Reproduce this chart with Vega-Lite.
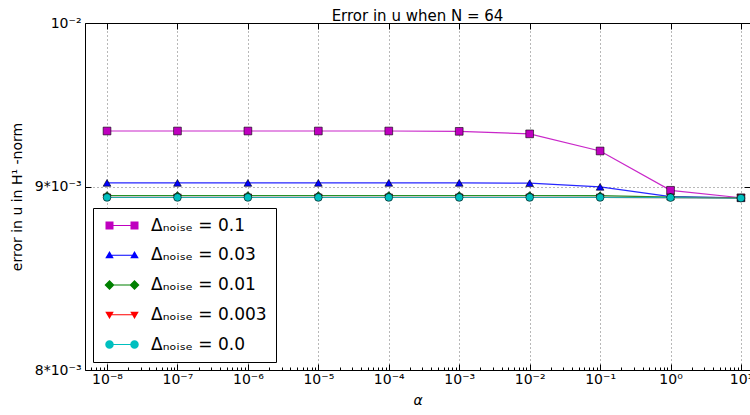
{
  "$schema": "https://vega.github.io/schema/vega-lite/v6.json",
  "autosize": "none",
  "width": 665,
  "height": 347,
  "padding": {"left": 85, "top": 23, "right": 0, "bottom": 45},
  "background": "white",
  "config": {
    "font": "DejaVu Sans",
    "view": {"stroke": "black", "strokeWidth": 1},
    "axis": {"labelFont": "DejaVu Sans", "titleFont": "DejaVu Sans", "labelColor": "black", "titleColor": "black", "tickColor": "black", "domain": false}
  },
  "title": {"text": "Error in u  when N = 64", "fontSize": 15, "fontWeight": "normal", "font": "DejaVu Sans", "offset": -8, "color": "black"},
  "data": {"values": [
    {"alpha": 1e-8, "err": 0.009329, "noise": "Δₙₒᵢₛₑ = 0.1"},
    {"alpha": 1e-7, "err": 0.009329, "noise": "Δₙₒᵢₛₑ = 0.1"},
    {"alpha": 1e-6, "err": 0.009329, "noise": "Δₙₒᵢₛₑ = 0.1"},
    {"alpha": 1e-5, "err": 0.009329, "noise": "Δₙₒᵢₛₑ = 0.1"},
    {"alpha": 1e-4, "err": 0.009329, "noise": "Δₙₒᵢₛₑ = 0.1"},
    {"alpha": 1e-3, "err": 0.009327, "noise": "Δₙₒᵢₛₑ = 0.1"},
    {"alpha": 1e-2, "err": 0.009312, "noise": "Δₙₒᵢₛₑ = 0.1"},
    {"alpha": 1e-1, "err": 0.009210, "noise": "Δₙₒᵢₛₑ = 0.1"},
    {"alpha": 1, "err": 0.008980, "noise": "Δₙₒᵢₛₑ = 0.1"},
    {"alpha": 10, "err": 0.008937, "noise": "Δₙₒᵢₛₑ = 0.1"},
    {"alpha": 1e-8, "err": 0.009023, "noise": "Δₙₒᵢₛₑ = 0.03"},
    {"alpha": 1e-7, "err": 0.009023, "noise": "Δₙₒᵢₛₑ = 0.03"},
    {"alpha": 1e-6, "err": 0.009023, "noise": "Δₙₒᵢₛₑ = 0.03"},
    {"alpha": 1e-5, "err": 0.009023, "noise": "Δₙₒᵢₛₑ = 0.03"},
    {"alpha": 1e-4, "err": 0.009023, "noise": "Δₙₒᵢₛₑ = 0.03"},
    {"alpha": 1e-3, "err": 0.009023, "noise": "Δₙₒᵢₛₑ = 0.03"},
    {"alpha": 1e-2, "err": 0.009021, "noise": "Δₙₒᵢₛₑ = 0.03"},
    {"alpha": 1e-1, "err": 0.009000, "noise": "Δₙₒᵢₛₑ = 0.03"},
    {"alpha": 1, "err": 0.008944, "noise": "Δₙₒᵢₛₑ = 0.03"},
    {"alpha": 10, "err": 0.008937, "noise": "Δₙₒᵢₛₑ = 0.03"},
    {"alpha": 1e-8, "err": 0.008950, "noise": "Δₙₒᵢₛₑ = 0.01"},
    {"alpha": 1e-7, "err": 0.008950, "noise": "Δₙₒᵢₛₑ = 0.01"},
    {"alpha": 1e-6, "err": 0.008950, "noise": "Δₙₒᵢₛₑ = 0.01"},
    {"alpha": 1e-5, "err": 0.008950, "noise": "Δₙₒᵢₛₑ = 0.01"},
    {"alpha": 1e-4, "err": 0.008950, "noise": "Δₙₒᵢₛₑ = 0.01"},
    {"alpha": 1e-3, "err": 0.008950, "noise": "Δₙₒᵢₛₑ = 0.01"},
    {"alpha": 1e-2, "err": 0.008950, "noise": "Δₙₒᵢₛₑ = 0.01"},
    {"alpha": 1e-1, "err": 0.008949, "noise": "Δₙₒᵢₛₑ = 0.01"},
    {"alpha": 1, "err": 0.008941, "noise": "Δₙₒᵢₛₑ = 0.01"},
    {"alpha": 10, "err": 0.008936, "noise": "Δₙₒᵢₛₑ = 0.01"},
    {"alpha": 1e-8, "err": 0.008939, "noise": "Δₙₒᵢₛₑ = 0.003"},
    {"alpha": 1e-7, "err": 0.008939, "noise": "Δₙₒᵢₛₑ = 0.003"},
    {"alpha": 1e-6, "err": 0.008939, "noise": "Δₙₒᵢₛₑ = 0.003"},
    {"alpha": 1e-5, "err": 0.008939, "noise": "Δₙₒᵢₛₑ = 0.003"},
    {"alpha": 1e-4, "err": 0.008939, "noise": "Δₙₒᵢₛₑ = 0.003"},
    {"alpha": 1e-3, "err": 0.008939, "noise": "Δₙₒᵢₛₑ = 0.003"},
    {"alpha": 1e-2, "err": 0.008939, "noise": "Δₙₒᵢₛₑ = 0.003"},
    {"alpha": 1e-1, "err": 0.008939, "noise": "Δₙₒᵢₛₑ = 0.003"},
    {"alpha": 1, "err": 0.008938, "noise": "Δₙₒᵢₛₑ = 0.003"},
    {"alpha": 10, "err": 0.008936, "noise": "Δₙₒᵢₛₑ = 0.003"},
    {"alpha": 1e-8, "err": 0.008939, "noise": "Δₙₒᵢₛₑ = 0.0"},
    {"alpha": 1e-7, "err": 0.008939, "noise": "Δₙₒᵢₛₑ = 0.0"},
    {"alpha": 1e-6, "err": 0.008939, "noise": "Δₙₒᵢₛₑ = 0.0"},
    {"alpha": 1e-5, "err": 0.008939, "noise": "Δₙₒᵢₛₑ = 0.0"},
    {"alpha": 1e-4, "err": 0.008939, "noise": "Δₙₒᵢₛₑ = 0.0"},
    {"alpha": 1e-3, "err": 0.008939, "noise": "Δₙₒᵢₛₑ = 0.0"},
    {"alpha": 1e-2, "err": 0.008939, "noise": "Δₙₒᵢₛₑ = 0.0"},
    {"alpha": 1e-1, "err": 0.008939, "noise": "Δₙₒᵢₛₑ = 0.0"},
    {"alpha": 1, "err": 0.008938, "noise": "Δₙₒᵢₛₑ = 0.0"},
    {"alpha": 10, "err": 0.008935, "noise": "Δₙₒᵢₛₑ = 0.0"}
  ]},
  "layer": [
    {
      "mark": {"type": "line", "strokeWidth": 1.2, "opacity": 0.85},
      "encoding": {
        "x": {"field": "alpha", "type": "quantitative",
          "scale": {"type": "log", "domain": [4.868e-9, 13.43], "nice": false},
          "axis": {
            "values": [1e-8, 1e-7, 1e-6, 1e-5, 1e-4, 1e-3, 1e-2, 1e-1, 1, 10,
              6e-9, 7e-9, 8e-9, 9e-9,
              2e-8, 3e-8, 4e-8, 5e-8, 6e-8, 7e-8, 8e-8, 9e-8,
              2e-7, 3e-7, 4e-7, 5e-7, 6e-7, 7e-7, 8e-7, 9e-7,
              2e-6, 3e-6, 4e-6, 5e-6, 6e-6, 7e-6, 8e-6, 9e-6,
              2e-5, 3e-5, 4e-5, 5e-5, 6e-5, 7e-5, 8e-5, 9e-5,
              2e-4, 3e-4, 4e-4, 5e-4, 6e-4, 7e-4, 8e-4, 9e-4,
              2e-3, 3e-3, 4e-3, 5e-3, 6e-3, 7e-3, 8e-3, 9e-3,
              2e-2, 3e-2, 4e-2, 5e-2, 6e-2, 7e-2, 8e-2, 9e-2,
              2e-1, 3e-1, 4e-1, 5e-1, 6e-1, 7e-1, 8e-1, 9e-1,
              2, 3, 4, 5, 6, 7, 8, 9],
            "labelExpr": "abs(log(datum.value)/LN10 - round(log(datum.value)/LN10)) < 0.01 ? '10' + replace(replace(replace(replace(replace(replace(replace(replace(replace(replace(replace(toString(round(log(datum.value)/LN10)),'-','⁻'),'0','⁰'),'1','¹'),'2','²'),'3','³'),'4','⁴'),'5','⁵'),'6','⁶'),'7','⁷'),'8','⁸'),'9','⁹') : ''",
            "labelFontSize": 14, "labelPadding": 8, "labelFlush": false, "labelOverlap": false,
            "tickSize": {"condition": {"test": "abs(log(datum.value)/LN10 - round(log(datum.value)/LN10)) < 0.01", "value": -6}, "value": -3},
            "grid": true, "gridColor": "black", "gridDash": [1, 3], "gridWidth": 0.8,
            "gridOpacity": {"condition": {"test": "abs(log(datum.value)/LN10 - round(log(datum.value)/LN10)) < 0.01", "value": 0.7}, "value": 0},
            "title": "α", "titleFontSize": 14, "titleFontStyle": "italic", "titleFontWeight": "normal", "titlePadding": 4
          }
        },
        "y": {"field": "err", "type": "quantitative",
          "scale": {"type": "log", "domain": [0.008, 0.01], "nice": false},
          "axis": {
            "values": [0.008, 0.009, 0.01],
            "labelExpr": "datum.value < 0.0085 ? '8*10⁻³' : datum.value < 0.0095 ? '9*10⁻³' : '10⁻²'",
            "labelFontSize": 14, "labelPadding": 10, "labelFlush": false,
            "tickSize": -6,
            "grid": true, "gridColor": "black", "gridDash": [1, 3], "gridWidth": 0.8, "gridOpacity": 0.7,
            "title": "error in u in H¹ -norm", "titleFontSize": 14, "titleFontWeight": "normal", "titlePadding": 10
          }
        },
        "color": {"field": "noise", "type": "nominal", "legend": null,
          "scale": {"domain": ["Δₙₒᵢₛₑ = 0.1", "Δₙₒᵢₛₑ = 0.03", "Δₙₒᵢₛₑ = 0.01", "Δₙₒᵢₛₑ = 0.003", "Δₙₒᵢₛₑ = 0.0"],
                    "range": ["#bf00bf", "#0000ff", "#008000", "#ff0000", "#00bfbf"]}},
        "detail": {"field": "noise"}
      }
    },
    {
      "mark": {"type": "point", "filled": true, "size": 60, "opacity": 1, "stroke": "black", "strokeWidth": 0.6},
      "encoding": {
        "x": {"field": "alpha", "type": "quantitative", "scale": {"type": "log", "domain": [4.868e-9, 13.43], "nice": false},
          "axis": {"orient": "top", "labels": false, "title": null, "grid": false, "tickSize": -6,
                   "values": [1e-8, 1e-7, 1e-6, 1e-5, 1e-4, 1e-3, 1e-2, 1e-1, 1, 10]}},
        "y": {"field": "err", "type": "quantitative", "scale": {"type": "log", "domain": [0.008, 0.01], "nice": false},
          "axis": {"orient": "right", "labels": false, "title": null, "grid": false, "tickSize": -6, "values": [0.008, 0.009, 0.01]}},
        "color": {"field": "noise", "type": "nominal", "legend": null,
          "scale": {"domain": ["Δₙₒᵢₛₑ = 0.1", "Δₙₒᵢₛₑ = 0.03", "Δₙₒᵢₛₑ = 0.01", "Δₙₒᵢₛₑ = 0.003", "Δₙₒᵢₛₑ = 0.0"],
                    "range": ["#bf00bf", "#0000ff", "#008000", "#ff0000", "#00bfbf"]}},
        "shape": {"field": "noise", "type": "nominal", "legend": null,
          "scale": {"domain": ["Δₙₒᵢₛₑ = 0.1", "Δₙₒᵢₛₑ = 0.03", "Δₙₒᵢₛₑ = 0.01", "Δₙₒᵢₛₑ = 0.003", "Δₙₒᵢₛₑ = 0.0"],
                    "range": ["square", "triangle-up", "diamond", "triangle-down", "circle"]}}
      }
    },
    {
      "mark": {"type": "point", "filled": true, "size": 10, "opacity": 0},
      "encoding": {
        "x": {"field": "alpha", "type": "quantitative", "scale": {"type": "log", "domain": [4.868e-9, 13.43], "nice": false}, "axis": null},
        "y": {"field": "err", "type": "quantitative", "scale": {"type": "log", "domain": [0.008, 0.01], "nice": false}, "axis": null},
        "color": {"field": "noise", "type": "nominal",
          "scale": {"domain": ["Δₙₒᵢₛₑ = 0.1", "Δₙₒᵢₛₑ = 0.03", "Δₙₒᵢₛₑ = 0.01", "Δₙₒᵢₛₑ = 0.003", "Δₙₒᵢₛₑ = 0.0"],
                    "range": ["#bf00bf", "#0000ff", "#008000", "#ff0000", "#00bfbf"]},
          "legend": {"title": null, "orient": "none", "legendX": 8, "legendY": 185,
                     "fillColor": "white", "strokeColor": "black", "padding": 9,
                     "labelFontSize": 17, "labelFont": "DejaVu Sans", "labelColor": "black", "labelLimit": 300,
                     "symbolSize": 100, "symbolOpacity": 1, "symbolStrokeWidth": 0,
                     "rowPadding": 11.75, "labelOffset": 32, "offset": 0}},
        "shape": {"field": "noise", "type": "nominal",
          "scale": {"domain": ["Δₙₒᵢₛₑ = 0.1", "Δₙₒᵢₛₑ = 0.03", "Δₙₒᵢₛₑ = 0.01", "Δₙₒᵢₛₑ = 0.003", "Δₙₒᵢₛₑ = 0.0"],
                    "range": [
                      "M-0.2,-0.12H4.8V0.12H-0.2Z M-1,-0.8H0.6V0.8H-1Z M4,-0.8H5.6V0.8H4Z",
                      "M-0.2,-0.12H4.8V0.12H-0.2Z M-0.2,-0.85L0.65,0.6L-1.05,0.6Z M4.8,-0.85L5.65,0.6L3.95,0.6Z",
                      "M-0.2,-0.12H4.8V0.12H-0.2Z M-0.2,-1L0.8,0L-0.2,1L-1.2,0Z M4.8,-1L5.8,0L4.8,1L3.8,0Z",
                      "M-0.2,-0.12H4.8V0.12H-0.2Z M-1.05,-0.6L0.65,-0.6L-0.2,0.85Z M3.95,-0.6L5.65,-0.6L4.8,0.85Z",
                      "M-0.2,-0.12H4.8V0.12H-0.2Z M-1.05,0A0.85,0.85,0,1,1,0.65,0A0.85,0.85,0,1,1,-1.05,0Z M3.95,0A0.85,0.85,0,1,1,5.65,0A0.85,0.85,0,1,1,3.95,0Z"
                    ]},
          "legend": {"title": null, "orient": "none", "legendX": 8, "legendY": 185,
                     "fillColor": "white", "strokeColor": "black", "padding": 9,
                     "labelFontSize": 17, "labelFont": "DejaVu Sans", "labelColor": "black", "labelLimit": 300,
                     "symbolSize": 100, "symbolOpacity": 1, "symbolStrokeWidth": 0,
                     "rowPadding": 11.75, "labelOffset": 32, "offset": 0}}
      }
    }
  ],
  "resolve": {"axis": {"x": "independent", "y": "independent"}, "scale": {"shape": "independent", "color": "independent"}, "legend": {"shape": "independent", "color": "independent"}}
}
